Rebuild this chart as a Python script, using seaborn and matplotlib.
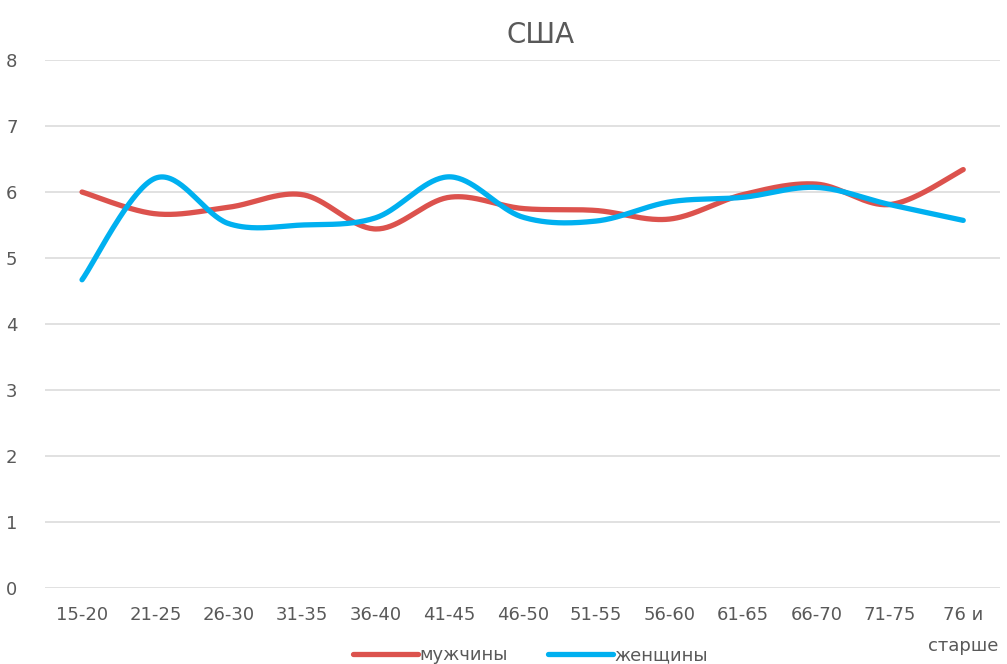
#!/usr/bin/env python3
"""
США: smoothed line chart by age group (men vs women), Excel look.
"""

import numpy as np
import pandas as pd
import matplotlib
matplotlib.use('Agg')
import matplotlib.pyplot as plt
import seaborn as sns

# Data
age_groups = ['15-20', '21-25', '26-30', '31-35', '36-40', '41-45', '46-50',
              '51-55', '56-60', '61-65', '66-70', '71-75', '76 и\nстарше']
men = [6.00, 5.67, 5.77, 5.96, 5.44, 5.92, 5.75, 5.72, 5.59, 5.96, 6.12, 5.81, 6.34]
women = [4.67, 6.21, 5.52, 5.50, 5.61, 6.23, 5.62, 5.56, 5.85, 5.92, 6.07, 5.81, 5.57]
series_names = ['мужчины', 'женщины']
y_ticks = [0, 1, 2, 3, 4, 5, 6, 7, 8]

RED = '#DC524D'
BLUE = '#00B0F0'
GRID = '#D9D9D9'
TEXT = '#595959'


def smooth_curve(values, steps=40):
    """Excel-style smoothed line: cubic Bezier segments with Catmull-Rom handles."""
    pts = np.column_stack([np.arange(len(values), dtype=float), np.asarray(values, float)])
    padded = np.vstack([pts[0], pts, pts[-1]])
    t = np.linspace(0, 1, steps)[:, None]
    out = []
    for i in range(len(pts) - 1):
        p0, p1, p2, p3 = padded[i], padded[i + 1], padded[i + 2], padded[i + 3]
        c1 = p1 + (p2 - p0) / 6.0
        c2 = p2 - (p3 - p1) / 6.0
        seg = ((1 - t) ** 3) * p1 + 3 * ((1 - t) ** 2) * t * c1 + 3 * (1 - t) * t ** 2 * c2 + t ** 3 * p2
        out.append(seg if i == 0 else seg[1:])
    return np.vstack(out)


def main():
    sns.set_theme(style='white')
    plt.rcParams['font.family'] = ['DejaVu Sans']

    frames = []
    for name, vals in zip(series_names, [men, women]):
        curve = smooth_curve(vals)
        frames.append(pd.DataFrame({'x': curve[:, 0], 'y': curve[:, 1], 'series': name}))
    df = pd.concat(frames, ignore_index=True)

    fig = plt.figure(figsize=(10.07, 6.64), dpi=100)
    ax = fig.add_axes([0.045, 0.1145, 0.948, 0.7951])

    sns.lineplot(data=df, x='x', y='y', hue='series', sort=False, estimator=None,
                 palette={'мужчины': RED, 'женщины': BLUE}, linewidth=3.8,
                 legend=False, ax=ax)

    ax.set_xlim(-0.5, len(age_groups) - 0.5)
    ax.set_ylim(0, 8)
    ax.set_yticks(y_ticks)
    ax.set_xticks(range(len(age_groups)))
    ax.set_xticklabels(age_groups, fontsize=13, color=TEXT, linespacing=1.9)
    ax.set_yticklabels([str(v) for v in y_ticks], fontsize=13, color=TEXT)
    ax.tick_params(axis='x', length=0, pad=13)
    ax.tick_params(axis='y', length=0, pad=20)
    for lab in ax.get_xticklabels():
        lab.set_verticalalignment('top')
    ax.set_xlabel('')
    ax.set_ylabel('')
    ax.grid(axis='y', color=GRID, linewidth=1.1)
    ax.set_axisbelow(True)
    for s in ax.spines.values():
        s.set_visible(False)

    fig.text(0.537, 0.948, 'США', ha='center', va='center', fontsize=20, color=TEXT)

    handles = [plt.Line2D([], [], color=RED, linewidth=3.8),
               plt.Line2D([], [], color=BLUE, linewidth=3.8)]
    leg = fig.legend(handles, series_names, loc='lower center', ncol=2,
                     bbox_to_anchor=(0.527, -0.025), frameon=False, fontsize=13,
                     handlelength=3.6, handletextpad=0.1, columnspacing=2.2)
    for t in leg.get_texts():
        t.set_color(TEXT)

    fig.savefig('out.png', dpi=100)
    plt.close(fig)


if __name__ == "__main__":
    main()
